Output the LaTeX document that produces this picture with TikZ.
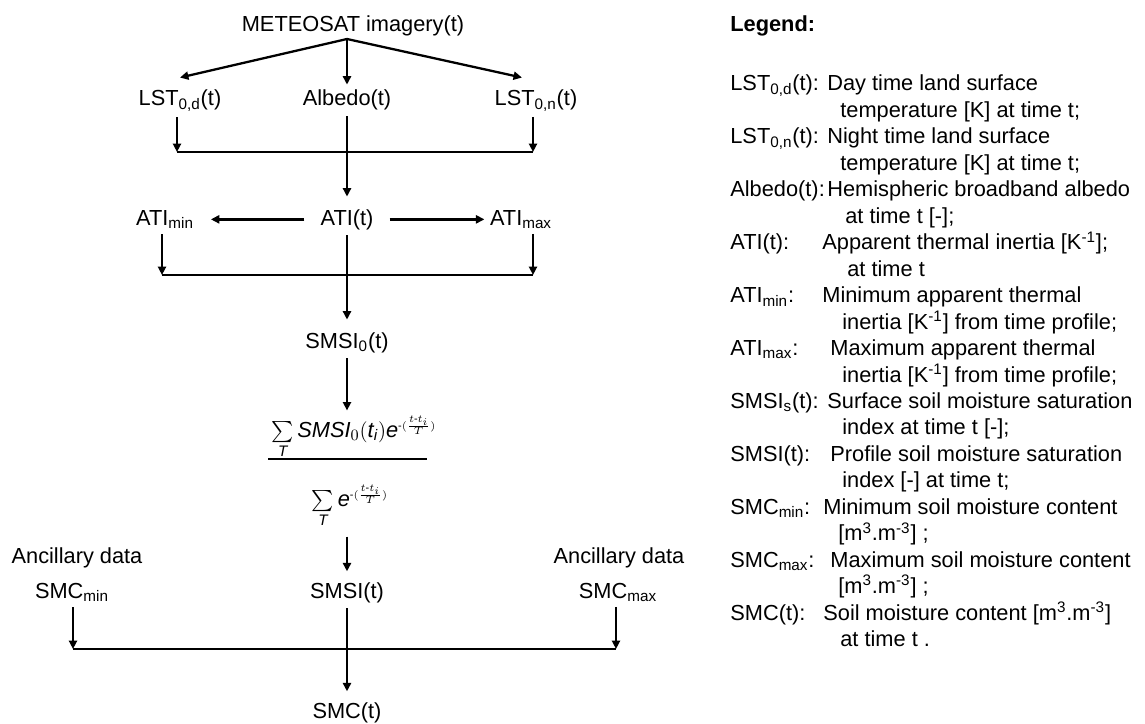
\documentclass[tikz,border=0pt]{standalone}
\usepackage{amsmath}
\usepackage{fontspec}
\setmainfont{Liberation Sans}
\usetikzlibrary{arrows.meta,positioning,calc}

\tikzset{
  arr/.style={line width=1.3pt, -{Triangle[length=4.8pt,width=4.6pt]}},
  bar/.style={line width=0.75pt},
  lab/.style={inner sep=3pt, anchor=base},
  key/.style={inner sep=0pt, anchor=base west},
}

\begin{document}
\begin{tikzpicture}[x=0.02cm, y=-0.02cm, font=\fontsize{12.4}{14}\selectfont]
\useasboundingbox (0,0) rectangle (1145,723);

% Satellite input
\node[lab] (meteosat) at (353,32) {METEOSAT imagery(t)};
\coordinate (fork) at (347,39);

% Surface temperature and albedo
\node[lab] (lstd) at (180,106) {LST\textsubscript{0,d}(t)};
\node[lab] (albedo) at (347,106) {Albedo(t)};
\node[lab] (lstn) at (536,106) {LST\textsubscript{0,n}(t)};
\draw[arr] (fork) -- ([yshift=4pt]lstd.north);
\draw[arr] (fork) -- (albedo);
\draw[arr] (fork) -- ([xshift=-8pt,yshift=4pt]lstn.north);

\coordinate (j1l) at (177,152);
\coordinate (j1r) at (533,152);
\draw[arr] (lstd.south -| j1l) -- (j1l);
\draw[arr] (lstn.south -| j1r) -- (j1r);
\draw[bar] (j1l) -- (j1r);

% Thermal inertia
\node[lab] (ati) at (347,225) {ATI(t)};
\node[lab] (atimin) at (165,225) {ATI\textsubscript{min}};
\node[lab] (atimax) at (521,225) {ATI\textsubscript{max}};
\draw[arr] (albedo) -- ([yshift=4pt]ati.north);
\draw[arr, shorten <=6pt, shorten >=6.5pt] (ati.west) -- (ati.west -| atimin.east);
\draw[arr, shorten <=6pt] (ati.east) -- (ati.east -| atimax.west);

\coordinate (j2l) at (162,275);
\coordinate (j2r) at (533,275);
\draw[arr] (atimin.south -| j2l) -- (j2l);
\draw[arr] (atimax.south -| j2r) -- (j2r);
\draw[bar] (j2l) -- (j2r);

% Saturation index (weighted time average)
\node[lab] (smsi0) at (347,348) {SMSI\textsubscript{0}(t)};
\node[lab] (num) at (354,437) {$\textstyle\sum\limits_{\textit{T}}\textit{SMSI}_{0}(\textit{t}_{\textit{i}})\textit{e}^{\scriptscriptstyle\text{-}(\frac{t\text{-}t_i}{T})}$};
\node[lab] (den) at (350,506) {$\textstyle\sum\limits_{\textit{T}}\textit{e}^{\scriptscriptstyle\text{-}(\frac{t\text{-}t_i}{T})}$};
\coordinate (fracl) at (268,459);
\coordinate (fracr) at (427,459);
\draw[bar] (fracl) -- (fracr);
\draw[arr] (ati) -- ([yshift=4pt]smsi0.north);
\draw[arr] (smsi0) -- (smsi0 |- num.north);
\node[lab] (smsi) at (347,598) {SMSI(t)};
\draw[arr, shorten <=2pt] (den.south -| smsi) -- ([yshift=3pt]smsi.north);

% Ancillary data
\node[lab] (ancl) at (77,563) {Ancillary data};
\node[lab] (smcmin) at (72,598) {SMC\textsubscript{min}};
\node[lab] (ancr) at (619,563) {Ancillary data};
\node[lab] (smcmax) at (618,598) {SMC\textsubscript{max}};
\coordinate (j3l) at (73,649);
\coordinate (j3r) at (616,649);
\draw[arr] (smcmin.south -| j3l) -- (j3l);
\draw[arr] (smcmax.south -| j3r) -- (j3r);
\draw[bar] (j3l) -- (j3r);

% Soil moisture content
\node[lab] (smc) at (347,718) {SMC(t)};
\draw[arr] (smsi) -- ([yshift=3pt]smc.north);

% Legend
\node[key] (legend) at (730,32) {\bfseries Legend:};
\node[key] (k1) at (730,91.0) {LST\textsubscript{0,d}(t):};
\node[key] (d1) at (827,91.0) {Day time land surface};
\node[key] (c1) at (840,117.5) {temperature [K] at time t;};
\node[key] (k2) at (730,143.9) {LST\textsubscript{0,n}(t):};
\node[key] (d2) at (827,143.9) {Night time land surface};
\node[key] (c2) at (840,170.4) {temperature [K] at time t;};
\node[key] (k3) at (730,196.8) {Albedo(t):};
\node[key] (d3) at (827,196.8) {Hemispheric broadband albedo};
\node[key] (c3) at (845,223.3) {at time t [-];};
\node[key] (k4) at (730,249.7) {ATI(t):};
\node[key] (d4) at (822,249.7) {Apparent thermal inertia [K\textsuperscript{-1}];};
\node[key] (c4) at (847,276.2) {at time t};
\node[key] (k5) at (730,302.6) {ATI\textsubscript{min}:};
\node[key] (d5) at (822,302.6) {Minimum apparent thermal};
\node[key] (c5) at (842,329.1) {inertia [K\textsuperscript{-1}] from time profile;};
\node[key] (k6) at (730,355.5) {ATI\textsubscript{max}:};
\node[key] (d6) at (830,355.5) {Maximum apparent thermal};
\node[key] (c6) at (842,382.0) {inertia [K\textsuperscript{-1}] from time profile;};
\node[key] (k7) at (730,408.4) {SMSI\textsubscript{s}(t):};
\node[key] (d7) at (827,408.4) {Surface soil moisture saturation};
\node[key] (c7) at (842,434.9) {index at time t [-];};
\node[key] (k8) at (730,461.3) {SMSI(t):};
\node[key] (d8) at (830,461.3) {Profile soil moisture saturation};
\node[key] (c8) at (842,487.8) {index [-] at time t;};
\node[key] (k9) at (730,514.2) {SMC\textsubscript{min}:};
\node[key] (d9) at (823,514.2) {Minimum soil moisture content};
\node[key] (c9) at (838,540.7) {[m\textsuperscript{3}.m\textsuperscript{-3}] ;};
\node[key] (k10) at (730,567.1) {SMC\textsubscript{max}:};
\node[key] (d10) at (830,567.1) {Maximum soil moisture content};
\node[key] (c10) at (838,593.6) {[m\textsuperscript{3}.m\textsuperscript{-3}] ;};
\node[key] (k11) at (730,620.0) {SMC(t):};
\node[key] (d11) at (823,620.0) {Soil moisture content [m\textsuperscript{3}.m\textsuperscript{-3}]};
\node[key] (c11) at (840,646.5) {at time t .};
\end{tikzpicture}
\end{document}
